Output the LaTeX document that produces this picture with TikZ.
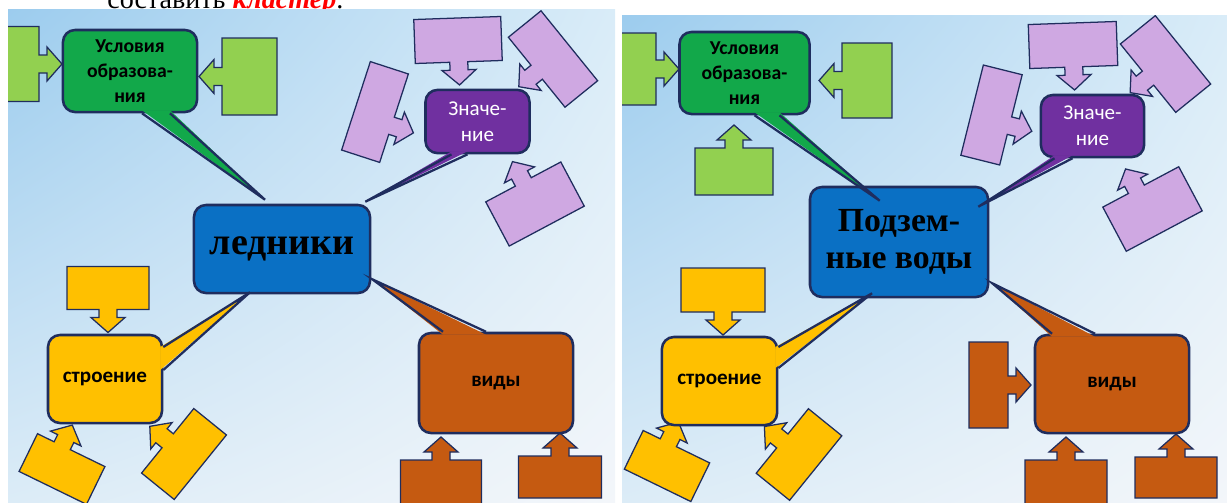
\documentclass[tikz,border=0pt]{standalone}
\usepackage{fontspec}
\setmainfont{Liberation Serif}
\newfontfamily\carl{Carlito}
\usetikzlibrary{calc,shadings}
\definecolor{navy}{HTML}{1F2D5E}
\definecolor{grn}{HTML}{12A84A}
\definecolor{lgrn}{HTML}{92D050}
\definecolor{prp}{HTML}{7030A0}
\definecolor{lav}{HTML}{CFA8E2}
\definecolor{blu}{HTML}{0A70C4}
\definecolor{ylw}{HTML}{FFC000}
\definecolor{brn}{HTML}{C55A11}
\definecolor{bgA}{HTML}{9CCCEE}
\definecolor{bgB}{HTML}{D9ECF8}
\definecolor{bgC}{HTML}{DCECF7}
\definecolor{bgD}{HTML}{F3F6FA}

% arrow callout: style, centre x, centre y, angle, width, height, arrow offset
\newcommand{\arrbox}[7]{%
  \begin{scope}[shift={(#2,#3)}, rotate=#4]
    \filldraw[#1] (-#5/2,-#6/2) -- (#5/2,-#6/2) -- (#5/2,#6/2)
      -- (#7+9,#6/2) -- (#7+9,#6/2+8) -- (#7+17,#6/2+8) -- (#7,#6/2+23)
      -- (#7-17,#6/2+8) -- (#7-9,#6/2+8) -- (#7-9,#6/2) -- (-#5/2,#6/2) -- cycle;
  \end{scope}}

\begin{document}
\begin{tikzpicture}[
    x=0.025cm, y=-0.025cm, line join=miter,
    box/.style={draw=navy, line width=1.8pt, rounded corners=0.3cm, align=center, inner sep=0pt},
    Gbox/.style={box, fill=grn, font=\carl\bfseries\fontsize{14}{17.7}\selectfont},
    Pbox/.style={box, fill=prp, text=white, font=\carl\fontsize{15}{18.4}\selectfont},
    Bbox/.style={box, fill=blu, font=\bfseries\fontsize{24}{26}\selectfont},
    Ybox/.style={box, fill=ylw, font=\carl\bfseries\fontsize{15}{18}\selectfont},
    Obox/.style={box, fill=brn, font=\carl\bfseries\fontsize{15}{18}\selectfont},
    arr/.style={draw=navy, line width=0.9pt},
    Garr/.style={arr, fill=lgrn},
    Parr/.style={arr, fill=lav},
    Yarr/.style={arr, fill=ylw},
    Oarr/.style={arr, fill=brn},
    edge/.style={draw=navy, line width=1.6pt},
]
\useasboundingbox (0,0) rectangle (1227,502);
\node[anchor=base west, inner sep=0pt, font=\fontsize{20}{24}\selectfont] (task) at (107,8)
  {составить \textcolor{red}{\textbf{\textit{кластер}}}.};

% left panel
\shade[upper left=bgA, upper right=bgB, lower left=bgC, lower right=bgD] (8,9) rectangle (615,502);
\begin{scope}
\clip (8,9) rectangle (615,502);
\arrbox{Garr}{17}{64}{90}{75}{44}{0}
\arrbox{Garr}{249.5}{76.5}{-90}{77}{55}{0}
\arrbox{Parr}{458}{40}{2}{87}{44}{0}
\arrbox{Parr}{553}{59}{-51}{90}{42}{0}
\arrbox{Parr}{375}{112}{72}{93}{40}{-8}
\arrbox{Parr}{535}{204}{208}{85}{50}{0}
\arrbox{Yarr}{108}{288}{0}{82}{43}{0}
\arrbox{Yarr}{62}{469}{154}{75}{42}{10}
\arrbox{Yarr}{184}{454}{231}{83}{42}{0}
\arrbox{Oarr}{441}{482}{180}{81}{44}{0}
\arrbox{Oarr}{560}{477}{180}{83}{42}{0}

\node[Gbox, minimum width=3.35cm, minimum height=2.05cm] (cond1) at (130,71) {Условия\\образова-\\ния};
\node[Pbox, minimum width=2.6cm, minimum height=1.58cm] (val1) at (477.5,121.5) {Значе-\\ние};
\node[Bbox, font=\bfseries\fontsize{27}{30}\selectfont, minimum width=4.4cm, minimum height=2.2cm] (main1) at (282,249) {ледники};
\node[Ybox, minimum width=2.85cm, minimum height=2.2cm] (struct1) at (105,379) {строение};
\node[Obox, minimum width=3.85cm, minimum height=2.5cm] (kind1) at (496,383) {виды};

\fill[grn] ($(cond1.south)+(12,-3)$) -- ($(main1.north)+(-17,-4)$) coordinate (tg1) -- ($(cond1.south)+(40,-3)$) -- cycle;
\draw[edge] ($(cond1.south)+(12,0)$) -- (tg1) -- ($(cond1.south)+(40,0)$);
\fill[prp] ($(val1.south)+(-26,-3)$) -- ($(main1.north east)+(-6,-2)$) coordinate (tp1) -- ($(val1.south)+(-10,-3)$) -- cycle;
\draw[edge] ($(val1.south)+(-26,0)$) -- (tp1) -- ($(val1.south)+(-10,0)$);
\fill[ylw] ($(struct1.east)+(-3,-32)$) -- ($(main1.south)+(-32,-2)$) coordinate (ty1) -- ($(struct1.east)+(-3,-9)$) -- cycle;
\draw[edge] ($(struct1.east)+(0,-32)$) -- (ty1) -- ($(struct1.east)+(0,-9)$);
\fill[brn] ($(kind1.north)+(-53,3)$) -- ($(main1.south east)+(1,-15)$) coordinate (to1) -- ($(kind1.north)+(-10,3)$) -- cycle;
\draw[edge] ($(kind1.north)+(-53,0)$) -- (to1) -- ($(kind1.north)+(-10,0)$);
\end{scope}

% right panel
\shade[upper left=bgA, upper right=bgB, lower left=bgC, lower right=bgD] (622,15) rectangle (1227,502);
\begin{scope}
\clip (622,15) rectangle (1227,502);
\arrbox{Garr}{634}{69}{90}{72}{44}{0}
\arrbox{Garr}{867}{80.5}{-90}{75}{50}{0}
\arrbox{Garr}{734}{171.5}{180}{78}{47}{0}
\arrbox{Parr}{1073}{45}{2}{88}{44}{0}
\arrbox{Parr}{1165.5}{64}{-51}{88}{45}{0}
\arrbox{Parr}{991.5}{115}{76}{93}{40}{-6}
\arrbox{Parr}{1152.5}{209}{208}{86}{50}{5}
\arrbox{Yarr}{723}{290}{0}{84}{44}{0}
\arrbox{Yarr}{667}{466}{154}{74}{43}{9}
\arrbox{Yarr}{799}{454.5}{231}{83}{43}{0}
\arrbox{Oarr}{988.5}{385}{90}{86}{39}{0}
\arrbox{Oarr}{1066}{482}{180}{82}{44}{0}
\arrbox{Oarr}{1176}{477.5}{180}{82}{41}{0}

\node[Gbox, minimum width=3.25cm, minimum height=2.05cm] (cond2) at (744.5,73) {Условия\\образова-\\ния};
\node[Pbox, minimum width=2.58cm, minimum height=1.55cm] (val2) at (1092.5,126) {Значе-\\ние};
\node[Bbox, minimum width=4.45cm, minimum height=2.75cm] (main2) at (899,242) {Подзем-\\ные воды};
\node[Ybox, minimum width=2.88cm, minimum height=2.2cm] (struct2) at (719.5,381) {строение};
\node[Obox, minimum width=3.85cm, minimum height=2.45cm] (kind2) at (1112,384) {виды};

\fill[grn] ($(cond2.south)+(10,-3)$) -- ($(main2.north west)+(71,15)$) coordinate (tg2) -- ($(cond2.south)+(35,-3)$) -- cycle;
\draw[edge] ($(cond2.south)+(10,0)$) -- (tg2) -- ($(cond2.south)+(35,0)$);
\fill[prp] ($(val2.south)+(-38,-3)$) -- ($(main2.north east)+(-11,21)$) coordinate (tp2) -- ($(val2.south)+(-20,-3)$) -- cycle;
\draw[edge] ($(val2.south)+(-38,0)$) -- (tp2) -- ($(val2.south)+(-20,0)$);
\fill[ylw] ($(struct2.east)+(-3,-34)$) -- ($(main2.south)+(-27,-5)$) coordinate (ty2) -- ($(struct2.east)+(-3,-13)$) -- cycle;
\draw[edge] ($(struct2.east)+(0,-34)$) -- (ty2) -- ($(struct2.east)+(0,-13)$);
\fill[brn] ($(kind2.north)+(-60,3)$) -- ($(main2.south east)+(3,-15)$) coordinate (to2) -- ($(kind2.north)+(-17,3)$) -- cycle;
\draw[edge] ($(kind2.north)+(-60,0)$) -- (to2) -- ($(kind2.north)+(-17,0)$);
\end{scope}
\end{tikzpicture}
\end{document}
